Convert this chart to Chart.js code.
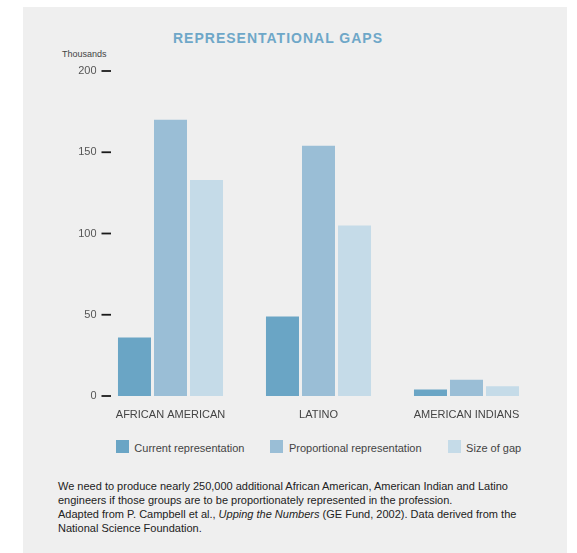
<!DOCTYPE html>
<html lang="en">
<head>
    <meta charset="UTF-8">
    <title>Representational Gaps</title>
    <script src="https://cdn.jsdelivr.net/npm/chart.js"></script>
    <style>
        body {
            margin: 0;
            background: #ffffff;
            font-family: "Liberation Sans", Arial, sans-serif;
        }
        #panel {
            position: absolute;
            left: 23px;
            top: 7px;
            width: 544px;
            height: 546px;
            background: #efefef; /* fond gris du cadre */
        }
        #title {
            position: absolute;
            left: 150px;
            top: 23px;
            font-size: 14px;
            font-weight: bold;
            letter-spacing: 1px;
            color: #6ea7c8;
        }
        #unit {
            position: absolute;
            left: 39px;
            top: 42px;
            font-size: 9px;
            color: #444;
        }
        #chartBox {
            position: absolute;
            left: 0;
            top: 53px;
            width: 544px;
            height: 362px;
        }
        #legend {
            position: absolute;
            left: 73.5px;
            top: 433px;
            width: 444px;
            display: flex;
            justify-content: center;
            gap: 26px;
            font-size: 11px;
            color: #444;
        }
        #legend .item {
            display: flex;
            align-items: flex-start;
        }
        #legend .box {
            width: 13px;
            height: 13px;
            margin-right: 5.5px;
        }
        #legend .txt {
            line-height: 13px;
            padding-top: 2px;
        }
        #caption {
            position: absolute;
            left: 35px;
            top: 472px;
            font-size: 11px;
            line-height: 14px;
            color: #222;
        }
    </style>
</head>
<body>
    <div id="panel">
        <div id="title">REPRESENTATIONAL GAPS</div>
        <div id="unit">Thousands</div>
        <div id="chartBox"><canvas id="gapChart"></canvas></div>
        <div id="legend"></div>
        <div id="caption">
            We need to produce nearly 250,000 additional African American, American Indian and Latino<br>
            engineers if those groups are to be proportionately represented in the profession.<br>
            Adapted from P. Campbell et al., <i>Upping the Numbers</i> (GE Fund, 2002). Data derived from the<br>
            National Science Foundation.
        </div>
    </div>

    <script>
        // Données (milliers d'ingénieurs)
        const groups = ['AFRICAN AMERICAN', 'LATINO', 'AMERICAN INDIANS'];
        const currentRep = [36, 49, 4];
        const proportionalRep = [170, 154, 10];
        const gapSize = [133, 105, 6];
        const yTicks = [0, 50, 100, 150, 200];

        // Petits traits noirs à côté des graduations de l'axe Y
        const tickMarks = {
            id: 'tickMarks',
            afterDraw(chart) {
                const y = chart.scales.y;
                const left = chart.chartArea.left;
                const ctx = chart.ctx;
                ctx.save();
                ctx.strokeStyle = '#1a1a1a';
                ctx.lineWidth = 1.8;
                y.ticks.forEach(t => {
                    const py = y.getPixelForValue(t.value);
                    ctx.beginPath();
                    ctx.moveTo(left + 5, py);
                    ctx.lineTo(left + 14.5, py);
                    ctx.stroke();
                });
                ctx.restore();
            }
        };

        const ctx = document.getElementById('gapChart').getContext('2d');
        const chart = new Chart(ctx, {
            type: 'bar',
            data: {
                labels: groups,
                datasets: [
                    { label: 'Current representation', data: currentRep, backgroundColor: '#6aa5c5' },
                    { label: 'Proportional representation', data: proportionalRep, backgroundColor: '#9abed6' },
                    { label: 'Size of gap', data: gapSize, backgroundColor: '#c5dbe8' }
                ]
            },
            options: {
                responsive: true,
                maintainAspectRatio: false,
                animation: false,
                layout: { padding: { top: 11, right: 26.5, left: 0, bottom: 0 } },
                datasets: {
                    bar: { categoryPercentage: 0.73, barPercentage: 0.9167 }
                },
                scales: {
                    x: {
                        grid: { display: false, drawTicks: false },
                        border: { display: false },
                        ticks: {
                            color: '#444',
                            padding: 12,
                            maxRotation: 0,
                            font: { family: '"Liberation Sans", Arial', size: 11 }
                        },
                        afterFit(scale) { scale.height = 26; }
                    },
                    y: {
                        min: 0,
                        max: 200,
                        afterBuildTicks(scale) { scale.ticks = yTicks.map(v => ({ value: v })); },
                        grid: { display: false, drawTicks: false },
                        border: { display: false },
                        ticks: {
                            color: '#555',
                            padding: 0,
                            font: { family: '"Liberation Sans", Arial', size: 11 }
                        },
                        afterFit(scale) { scale.width = 73.5; }
                    }
                },
                plugins: {
                    tooltip: { enabled: false },
                    legend: { display: false }
                }
            },
            plugins: [tickMarks]
        });

        // Légende HTML construite à partir des séries
        const legend = document.getElementById('legend');
        chart.data.datasets.forEach(ds => {
            const item = document.createElement('div');
            item.className = 'item';
            item.innerHTML = '<span class="box" style="background:' + ds.backgroundColor + '"></span>' +
                '<span class="txt">' + ds.label + '</span>';
            legend.appendChild(item);
        });
    </script>
</body>
</html>
